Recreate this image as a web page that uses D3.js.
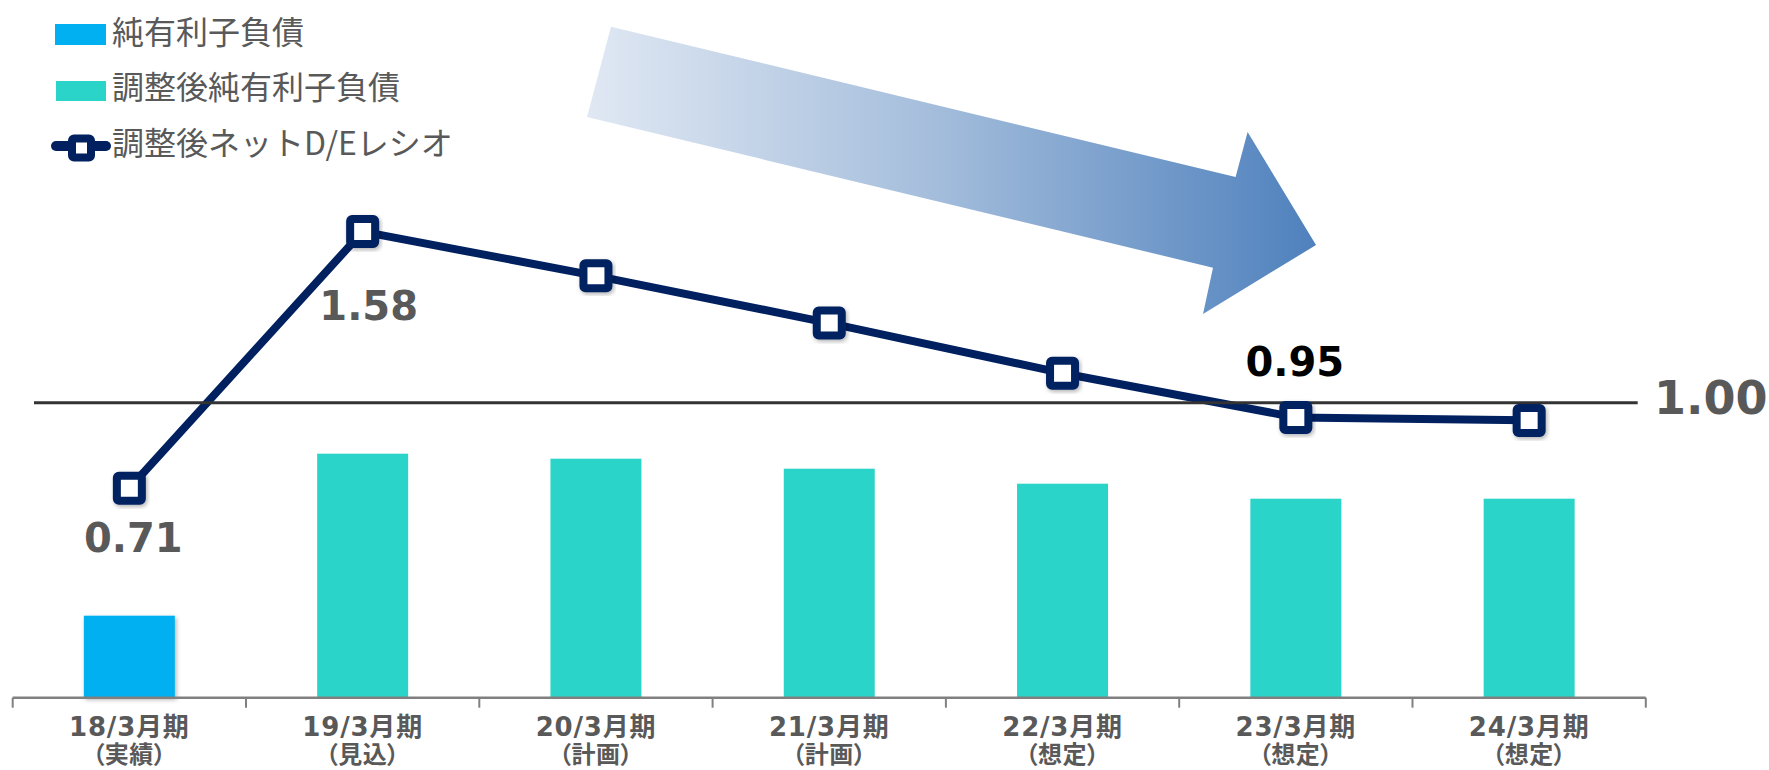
<!DOCTYPE html>
<html lang="ja">
<head>
<meta charset="utf-8">
<title>調整後ネットD/Eレシオ</title>
<script src="https://cdn.jsdelivr.net/npm/d3@7"></script>
<style>
  html, body { margin: 0; padding: 0; background: #fff; }
  svg { display: block; }
  .cjk { font-family: "Noto Sans CJK JP", sans-serif; }
  .num { font-family: "DejaVu Sans", "Noto Sans CJK JP", sans-serif; font-weight: bold; }
  .note { font-family: "Noto Sans CJK JP", sans-serif; font-weight: bold; font-feature-settings: "palt"; }
</style>
</head>
<body>
<svg id="chart" width="1769" height="770"></svg>
<script>
// Fiscal periods (March year-end) and their status notes
const categories = ["18/3月期", "19/3月期", "20/3月期", "21/3月期", "22/3月期", "23/3月期", "24/3月期"];
const periodNotes = ["（実績）", "（見込）", "（計画）", "（計画）", "（想定）", "（想定）", "（想定）"];

// Net interest-bearing debt (actual) and adjusted net interest-bearing debt, 億円
const netDebt = [820, null, null, null, null, null, null];
const adjustedNetDebt = [null, 2440, 2390, 2290, 2140, 1990, 1990];

// Adjusted net D/E ratio (times)
const deRatio = [0.71, 1.58, 1.43, 1.27, 1.10, 0.95, 0.94];

// Reference level for the D/E ratio
const ratioTarget = 1.00;

// Which ratio points carry a value label
const labeledIndex = [0, 1, 5];

// Legend entries
const legendItems = ["純有利子負債", "調整後純有利子負債", "調整後ネットD/Eレシオ"];

const COLORS = {
  netDebt: "#00B0F0",
  adjDebt: "#2BD4C8",
  ratio: "#002060",
  text: "#595959",
  axis: "#808080",
  rule: "#333333"
};

const svg = d3.select("#chart");
const defs = svg.append("defs");

// soft shadow for markers and the actual-debt bar
const shadow = defs.append("filter").attr("id", "shadow")
  .attr("x", "-30%").attr("y", "-30%").attr("width", "160%").attr("height", "160%");
shadow.append("feDropShadow").attr("dx", 1.5).attr("dy", 2).attr("stdDeviation", 2)
  .attr("flood-color", "#000").attr("flood-opacity", 0.3);

// gradient for the trend arrow
const grad = defs.append("linearGradient").attr("id", "arrowGrad")
  .attr("gradientUnits", "userSpaceOnUse")
  .attr("x1", 587).attr("y1", 0).attr("x2", 1316).attr("y2", 0);
grad.append("stop").attr("offset", "0%").attr("stop-color", "#e0e8f3");
grad.append("stop").attr("offset", "45%").attr("stop-color", "#a8c0dd");
grad.append("stop").attr("offset", "100%").attr("stop-color", "#4f81bd");

// layout
const baseY = 697.7;
const x = d3.scaleBand()
  .domain(categories)
  .range([12.7, 1645.8])
  .paddingInner(0.61)
  .paddingOuter(0.305);

const yDebt = d3.scaleLinear().domain([0, 3000]).range([baseY, baseY - 300]);
const yRatio = d3.scaleLinear().domain([0, 2]).range([baseY, baseY - 590]);

const cx = c => x(c) + x.bandwidth() / 2;

// trend arrow
const arrowPts = [[611, 26.7], [1235.6, 177], [1247.6, 132], [1316, 245], [1203, 314], [1213, 267.7], [587, 117]];
svg.append("path")
  .attr("d", d3.line()(arrowPts) + "Z")
  .attr("fill", "url(#arrowGrad)");

// bars
const barData = categories.map((c, i) => ({
  c,
  value: netDebt[i] != null ? netDebt[i] : adjustedNetDebt[i],
  actual: netDebt[i] != null
}));

svg.append("g").selectAll("rect").data(barData).join("rect")
  .attr("x", d => x(d.c))
  .attr("width", x.bandwidth())
  .attr("y", d => yDebt(d.value))
  .attr("height", d => baseY - yDebt(d.value))
  .attr("fill", d => d.actual ? COLORS.netDebt : COLORS.adjDebt)
  .attr("filter", d => d.actual ? "url(#shadow)" : null);

// category axis: baseline with ticks at period boundaries
const axisG = svg.append("g").attr("transform", `translate(0,${baseY})`);
const bounds = categories.map(c => x(c) - x.step() * x.paddingInner() / 2)
  .concat([x(categories[categories.length - 1]) + x.bandwidth() + x.step() * x.paddingInner() / 2]);
axisG.append("line")
  .attr("x1", bounds[0]).attr("x2", bounds[bounds.length - 1])
  .attr("stroke", COLORS.axis).attr("stroke-width", 2.5);
axisG.selectAll("line.tick").data(bounds).join("line")
  .attr("class", "tick")
  .attr("x1", d => d).attr("x2", d => d)
  .attr("y1", 0).attr("y2", 10)
  .attr("stroke", COLORS.axis).attr("stroke-width", 2);

const catLabels = svg.append("g").selectAll("g").data(categories).join("g")
  .attr("transform", c => `translate(${cx(c)},0)`);
catLabels.append("text")
  .attr("class", "num")
  .attr("y", 736)
  .attr("text-anchor", "middle")
  .attr("font-size", 26)
  .attr("letter-spacing", 0.8)
  .attr("fill", COLORS.text)
  .text(c => c);
catLabels.append("text")
  .attr("class", "note")
  .attr("y", 763)
  .attr("text-anchor", "middle")
  .attr("font-size", 24)
  .attr("letter-spacing", 0.5)
  .attr("fill", COLORS.text)
  .text((c, i) => periodNotes[i]);

// ratio line
const ratioPts = categories.map((c, i) => [cx(c), yRatio(deRatio[i])]);
svg.append("path")
  .attr("d", d3.line()(ratioPts))
  .attr("fill", "none")
  .attr("stroke", COLORS.ratio)
  .attr("stroke-width", 8)
  .attr("stroke-linejoin", "round");

// reference rule at D/E = 1.00
const ruleY = yRatio(ratioTarget);
svg.append("line")
  .attr("x1", 34).attr("x2", 1637.7)
  .attr("y1", ruleY).attr("y2", ruleY)
  .attr("stroke", COLORS.rule).attr("stroke-width", 3);
svg.append("text")
  .attr("class", "num")
  .attr("x", 1654).attr("y", ruleY + 11)
  .attr("font-size", 46)
  .attr("fill", COLORS.text)
  .text(ratioTarget.toFixed(2));

// markers
svg.append("g").selectAll("rect").data(ratioPts).join("rect")
  .attr("x", d => d[0] - 12.5)
  .attr("y", d => d[1] - 12.5)
  .attr("width", 25).attr("height", 25)
  .attr("rx", 2).attr("ry", 2)
  .attr("fill", "#fff")
  .attr("stroke", COLORS.ratio)
  .attr("stroke-width", 8)
  .attr("filter", "url(#shadow)");

// value labels
const labelOffset = {
  0: { dx: 4, dy: 64, color: COLORS.text },
  1: { dx: 6, dy: 88, color: COLORS.text },
  5: { dx: -1, dy: -41, color: "#000" }
};
svg.append("g").selectAll("text").data(labeledIndex).join("text")
  .attr("class", "num")
  .attr("x", i => ratioPts[i][0] + labelOffset[i].dx)
  .attr("y", i => ratioPts[i][1] + labelOffset[i].dy)
  .attr("text-anchor", "middle")
  .attr("font-size", 40)
  .attr("fill", i => labelOffset[i].color)
  .text(i => deRatio[i].toFixed(2));

// legend
const legend = svg.append("g");
legend.append("rect").attr("x", 55).attr("y", 24).attr("width", 51).attr("height", 21).attr("fill", COLORS.netDebt);
legend.append("rect").attr("x", 56).attr("y", 81).attr("width", 50).attr("height", 20).attr("fill", COLORS.adjDebt);
legend.append("line").attr("x1", 56).attr("x2", 106).attr("y1", 146).attr("y2", 146)
  .attr("stroke", COLORS.ratio).attr("stroke-width", 10).attr("stroke-linecap", "round");
legend.append("rect").attr("x", 72).attr("y", 138.5).attr("width", 19).attr("height", 19)
  .attr("rx", 2).attr("fill", "#fff").attr("stroke", COLORS.ratio).attr("stroke-width", 8);
legend.selectAll("text").data(legendItems).join("text")
  .attr("class", "cjk")
  .attr("x", 112)
  .attr("y", (d, i) => [30, 85, 141][i])
  .attr("dominant-baseline", "central")
  .attr("font-size", 32)
  .attr("fill", COLORS.text)
  .text(d => d);
</script>
</body>
</html>
